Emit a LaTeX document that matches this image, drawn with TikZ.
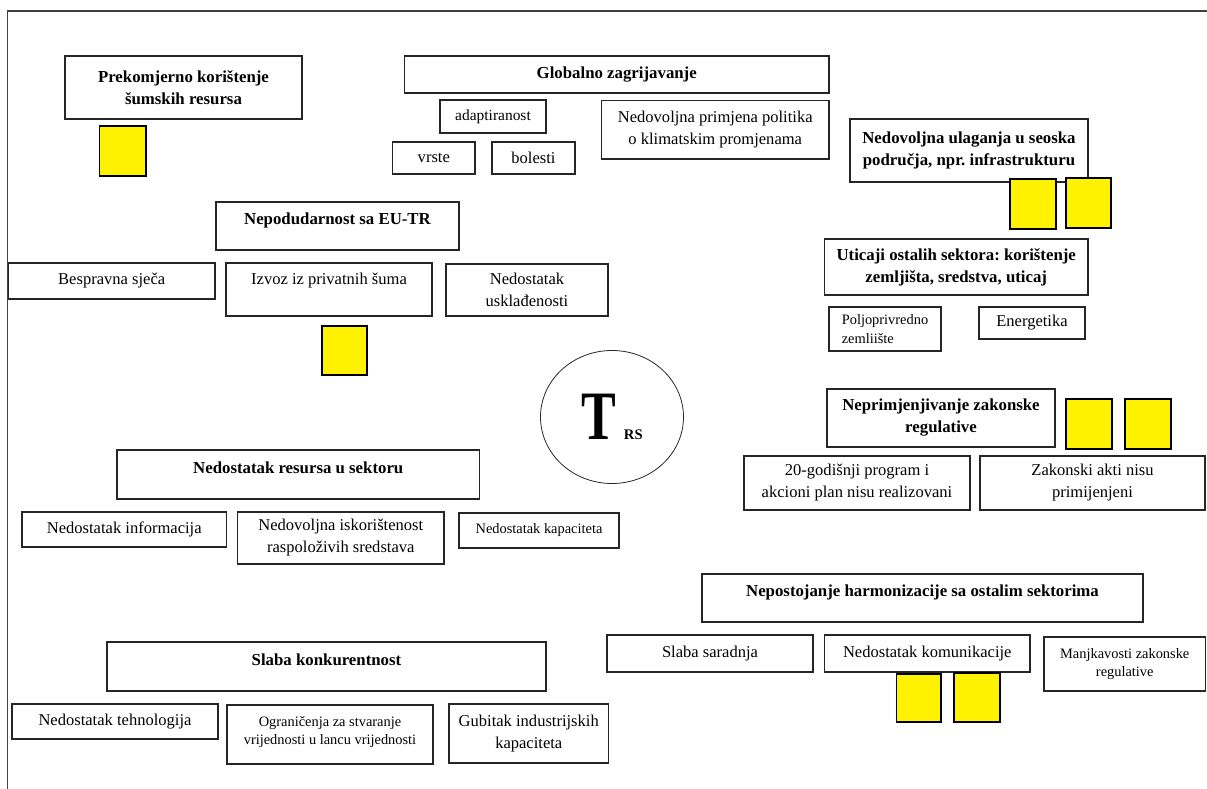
\documentclass[tikz,border=0pt]{standalone}
\usepackage{fontspec}
\setmainfont{Liberation Serif}
\usepackage{graphicx}
\usetikzlibrary{shapes.geometric}
\frenchspacing

\begin{document}
\begin{tikzpicture}[x=0.75pt, y=-0.75pt,
        cell/.style n args={4}{at={({(#1+#3)/2},{(#2+#4)/2})}, minimum width={(#3-#1)*0.75pt}, minimum height={(#4-#2)*0.75pt}},
        box/.style={draw=black!85, line width=0.8pt, inner sep=0pt, align=center, font=\fontsize{12.4}{16.5}\selectfont},
        hdr/.style={box, font=\bfseries\fontsize{12.6}{16.5}\selectfont},
        smallbox/.style={box, font=\fontsize{10.8}{14}\selectfont},
        ybox/.style={draw=black, line width=0.8pt, fill=yellow, inner sep=0pt}]
        \useasboundingbox (0,0) rectangle (1207,789);
        \draw[black!75, line width=0.9pt](7.5,789)--(7.5,11)--(1207,11);

        \node[hdr, cell={65}{56}{302}{119}] (prekom) {Prekomjerno korištenje\\šumskih resursa};
        \node[hdr, cell={404.5}{56}{829}{93}] (globalno) {Globalno zagrijavanje};
        \node[box, font=\fontsize{11.6}{14}\selectfont, cell={440}{100}{546}{133}] (adapt) {adaptiranost};
        \node[box, cell={392.6}{142}{475}{174}] (vrste) {vrste};
        \node[box, cell={492}{142}{575}{174}] (bolesti) {bolesti};
        \node[box, cell={601.5}{100.7}{829}{159}] (politika) {Nedovoljna primjena politika\\o klimatskim promjenama};
        \node[hdr, cell={850}{119}{1088}{182}] (ulaganja) {Nedovoljna ulaganja u seoska\\područja, npr. infrastrukturu};

        \node[hdr, cell={216}{202}{459}{250}] (nepodud) {Nepodudarnost sa EU-TR\\[-6pt]\mbox{}};
        \node[box, cell={8.4}{263}{215}{299}] (bespravna) {Bespravna sječa};
        \node[box, cell={226}{263}{432}{316}] (izvoz) {Izvoz iz privatnih šuma\\\mbox{}};
        \node[box, cell={446}{264}{608}{316}] (uskladj) {Nedostatak\\usklađenosti};

        \node[hdr, cell={824.5}{239}{1088}{295}] (uticaji) {Uticaji ostalih sektora: korištenje\\zemljišta, sredstva, uticaj};
        \node[smallbox, align=left, cell={829}{307}{941}{351}] (poljo) {Poljoprivredno\\zemliište};
        \node[box, cell={979}{307}{1085}{339}] (energ) {Energetika};

        \node[draw=black!85, line width=0.6pt, ellipse, inner sep=0pt, cell={540.5}{350.5}{683.5}{483.5}] (trs)
            {\scalebox{0.75}[1]{\bfseries\fontsize{52}{52}\selectfont T}\hspace{6pt}{\bfseries\fontsize{11}{12}\selectfont RS}};

        \node[hdr, cell={827}{389}{1055}{447}] (neprim) {Neprimjenjivanje zakonske\\regulative};
        \node[box, cell={744}{456}{970}{510}] (program) {20-godišnji program i\\akcioni plan nisu realizovani};
        \node[box, cell={980}{456}{1205}{510}] (akti) {Zakonski akti nisu\\primijenjeni};

        \node[hdr, cell={117}{450}{479.5}{499}] (resursi) {Nedostatak resursa u sektoru\\[-6pt]\mbox{}};
        \node[box, cell={22}{512}{226.5}{547}] (inform) {Nedostatak informacija};
        \node[box, cell={237.6}{512}{444}{564}] (iskor) {Nedovoljna iskorištenost\\raspoloživih sredstava};
        \node[smallbox, cell={459}{513}{619}{548}] (kapac) {Nedostatak kapaciteta};

        \node[hdr, cell={702}{574}{1143}{622}] (harmon) {Nepostojanje harmonizacije sa ostalim sektorima\\[-6pt]\mbox{}};
        \node[box, cell={607}{635}{813}{672}] (saradnja) {Slaba saradnja};
        \node[box, cell={824.5}{635}{1030}{672}] (komunik) {Nedostatak komunikacije};
        \node[smallbox, cell={1044}{637}{1205.5}{691}] (manjk) {Manjkavosti zakonske\\regulative};

        \node[hdr, cell={107}{642}{546}{691}] (konkur) {Slaba konkurentnost\\[-6pt]\mbox{}};
        \node[box, cell={12}{704}{218}{739}] (tehnol) {Nedostatak tehnologija};
        \node[smallbox, cell={227}{705}{433}{764}] (ogranic) {Ograničenja za stvaranje\\vrijednosti u lancu vrijednosti\\[-8pt]\mbox{}};
        \node[box, cell={449}{704}{608.5}{763}] (gubitak) {Gubitak industrijskih\\kapaciteta};

        \foreach \xa/\ya/\xb/\yb [count=\i] in {99.5/126/146/176, 322/326/367/375, 1010/179/1056/229, 1066/178/1111/228,
                1066/399/1112/449, 1125/399/1171/449, 896.5/674/941/722, 954/673/1000/722}
            \node[ybox, cell={\xa}{\ya}{\xb}{\yb}] (sq\i) {};
    \end{tikzpicture}
\end{document}
